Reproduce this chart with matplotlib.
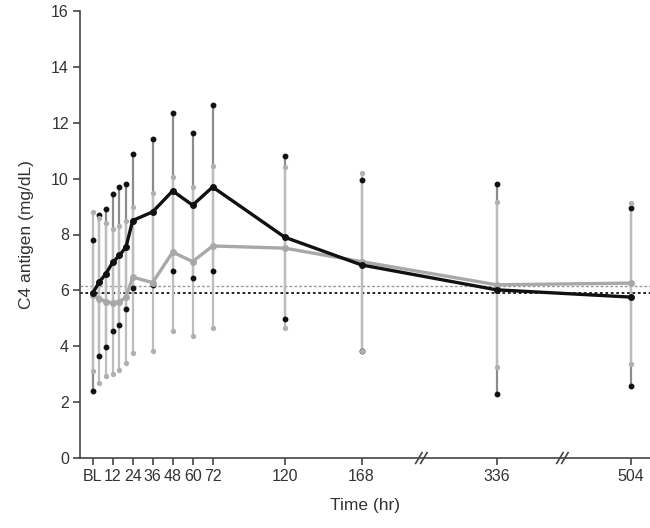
import matplotlib
matplotlib.use('agg')
import matplotlib.pyplot as plt
import matplotlib.transforms as mtransforms
import numpy as np

plt.rcParams['font.family'] = ['Liberation Sans', 'DejaVu Sans']

# time points (hr), BL = 0
hours = [0, 4, 8, 12, 16, 20, 24, 36, 48, 60, 72, 120, 168, 336, 504]

# black series: mean, upper and lower bar ends
black_mean = [5.9, 6.3, 6.6, 7.0, 7.25, 7.55, 8.5, 8.81, 9.56, 9.05, 9.7, 7.9, 6.91, 6.02, 5.76]
black_hi = [7.8, 8.7, 8.9, 9.45, 9.7, 9.8, 10.87, 11.43, 12.36, 11.63, 12.64, 10.82, 9.95, 9.81, 8.94]
black_lo = [2.4, 3.65, 3.98, 4.55, 4.76, 5.32, 6.1, 6.2, 6.69, 6.45, 6.7, 4.96, 3.84, 2.28, 2.59]

# grey series
grey_mean = [5.85, 5.7, 5.6, 5.55, 5.6, 5.75, 6.47, 6.28, 7.37, 7.03, 7.59, 7.51, 7.03, 6.2, 6.26]
grey_hi = [8.8, 8.6, 8.4, 8.2, 8.3, 8.5, 9.0, 9.5, 10.05, 9.69, 10.45, 10.43, 10.21, 9.18, 9.12]
grey_lo = [3.1, 2.7, 2.95, 3.0, 3.15, 3.4, 3.75, 3.83, 4.55, 4.38, 4.64, 4.64, 3.84, 3.27, 3.36]

black_base = 5.92
grey_base = 6.15

tick_hours = [0, 12, 24, 36, 48, 60, 72, 120, 168, 336, 504]
tick_labels = ['BL', '12', '24', '36', '48', '60', '72', '120', '168', '336', '504']
break_hours = [243, 419]

# broken time axis: piecewise linear scale
scale_hr = [-100, 0, 72, 120, 168, 336, 504, 1000]
scale_pos = [-166.7, 0, 120, 192.3, 269, 404, 538.3, 935]


def fwd(x):
    return np.interp(x, scale_hr, scale_pos)


def inv(x):
    return np.interp(x, scale_pos, scale_hr)


fig = plt.figure(figsize=(6.5, 5.28), dpi=100)
ax = fig.add_axes([80 / 650, 1 - 458 / 528, 570 / 650, 447 / 528])
ax.set_xscale('function', functions=(fwd, inv))

# baseline reference lines
ax.axhline(grey_base, color='#999999', lw=1.0, ls=(0, (2, 1.5)), zorder=1)
ax.axhline(black_base, color='#111111', lw=1.3, ls=(0, (1.5, 1.5)), zorder=1)

# error bars
ax.vlines(hours, black_lo, black_hi, color='#8c8c8c', lw=1.6, zorder=2)
ax.vlines(hours, grey_lo, grey_hi, color='#bdbdbd', lw=1.6, zorder=2)
ax.plot(hours, black_hi, 'o', color='#111111', ms=3.2, ls='none', zorder=3)
ax.plot(hours, black_lo, 'o', color='#111111', ms=3.2, ls='none', zorder=3)
ax.plot(hours, grey_hi, 'o', color='#b0b0b0', ms=2.8, ls='none', zorder=3)
ax.plot(hours, grey_lo, 'o', color='#b0b0b0', ms=2.8, ls='none', zorder=3)

# mean lines
ax.plot(hours, grey_mean, '-o', color='#a8a8a8', lw=2.4, ms=4, zorder=4)
ax.plot(hours, black_mean, '-o', color='#111111', lw=2.4, ms=4, zorder=5)

ax.set_xlim(-7.6, 528)
ax.set_ylim(0, 16)
ax.set_yticks(range(0, 17, 2))
ax.set_xticks(tick_hours)
ax.set_xticklabels(tick_labels)
ax.minorticks_off()

for s in ['top', 'right']:
    ax.spines[s].set_visible(False)
for s in ['left', 'bottom']:
    ax.spines[s].set_color('#444444')
    ax.spines[s].set_linewidth(1.2)
ax.tick_params(direction='out', length=5, width=1.2, color='#444444',
               labelsize=11.5, labelcolor='#333333', pad=3)

# axis break marks
trans = mtransforms.blended_transform_factory(ax.transData, ax.transAxes)
for b in break_hours:
    for dx in [-3, 2]:
        t = trans + mtransforms.ScaledTranslation(dx / 100, 0, fig.dpi_scale_trans)
        ax.plot([b - 4, b + 4], [-0.012, 0.012], color='#444444', lw=1.2,
                transform=t, clip_on=False, zorder=6)

ax.set_xlabel('Time (hr)', fontsize=12.5, color='#333333', labelpad=10)
ax.set_ylabel('C4 antigen (mg/dL)', fontsize=12.5, color='#333333', labelpad=12)

plt.savefig('out.png', dpi=100)
